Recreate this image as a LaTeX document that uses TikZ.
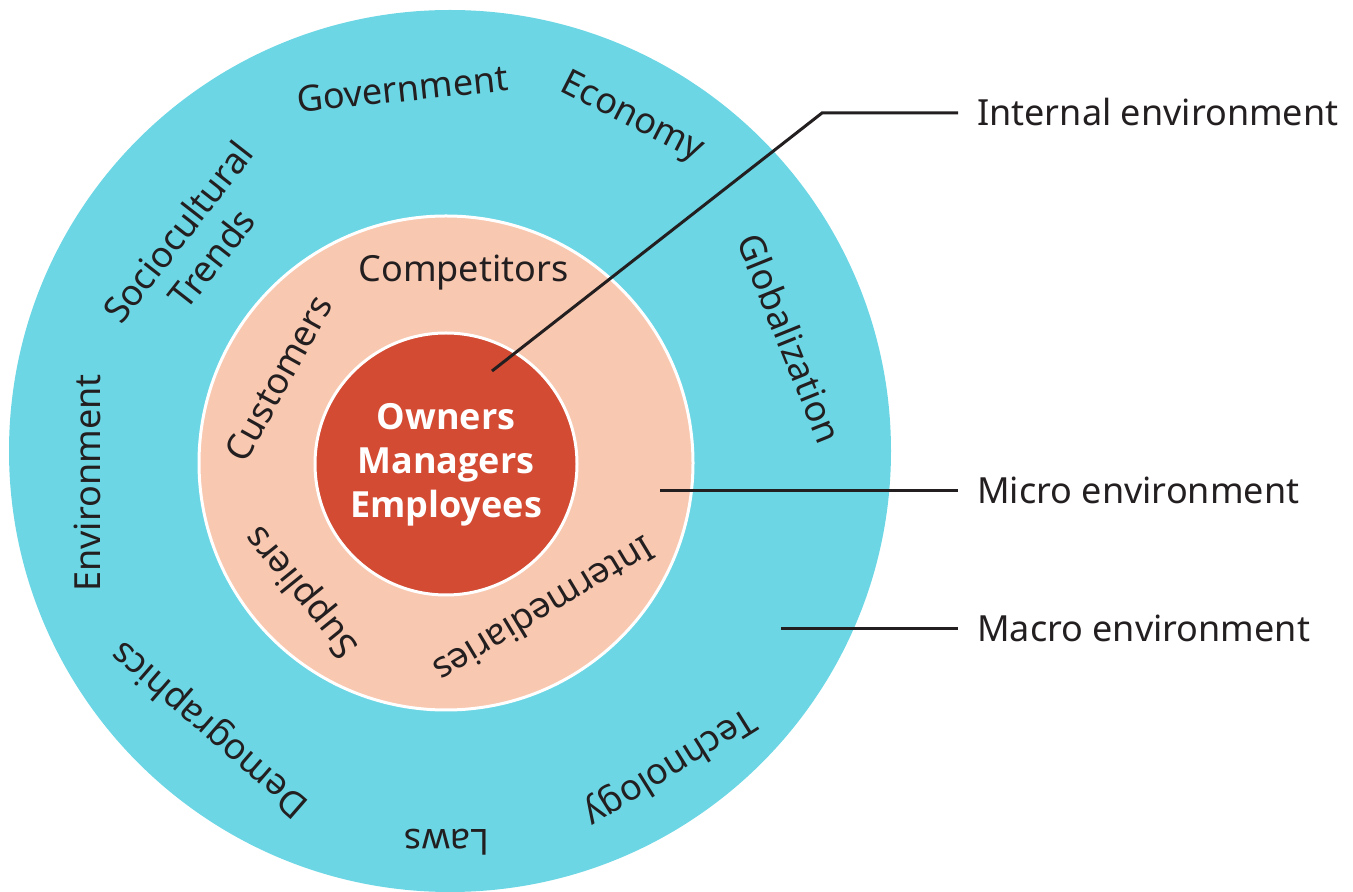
\documentclass[tikz,border=0pt]{standalone}
\usepackage{fontspec}
\setmainfont{Noto Sans}
\newfontfamily\heavyfont{Open Sans}[BoldFont={* Bold}]
\definecolor{macrocol}{HTML}{6CD6E4}
\definecolor{microcol}{HTML}{F9C8B0}
\definecolor{internalcol}{HTML}{D34B33}
\definecolor{ink}{HTML}{231F20}

\begin{document}
\begin{tikzpicture}[x=1pt, y=1pt]
\tikzstyle{ring} = [circle, draw=white, line width=3pt, inner sep=0pt]
\tikzstyle{lab} = [font=\fontsize{36}{43}\selectfont, text=ink, inner sep=0pt, text height=27pt, text depth=9pt]
\tikzstyle{side} = [lab, anchor=west, inner xsep=19pt, text height=31pt, text depth=5pt]
\tikzstyle{lead} = [draw=ink, line width=3pt]
\useasboundingbox (0, 0) rectangle (1353, 892);

\node [ring, draw=none, fill=macrocol, minimum size=882pt] (macro) at (450, 441) {};
\node [ring, fill=microcol, minimum size=494pt] (micro) at (446, 429) {};
\node [ring, fill=internalcol, minimum size=262pt] (internal) at (446, 428) {};

\node [lab, rotate=6] (gov) at (403, 799.5) {Government};
\node [lab, rotate=-27] (eco) at (632, 774) {Economy};
\node [lab, rotate=52, align=center, text height=, text depth=] (soc) at (194.5, 647) {Sociocultural\\Trends};
\node [lab, rotate=90] (env) at (92, 409) {Environment};
\node [lab, rotate=139] (dem) at (211, 164) {Demographics};
\node [lab, rotate=180] (law) at (447, 53) {Laws};
\node [lab, rotate=212] (tec) at (669, 126) {Technology};
\node [lab, rotate=-68] (glo) at (786, 552) {Globalization};

\node [lab] (com) at (463.5, 619) {Competitors};
\node [lab, rotate=61] (cus) at (282, 512) {Customers};
\node [lab, rotate=129] (sup) at (303, 301) {Suppliers};
\node [lab, rotate=211] (int) at (542, 285) {Intermediaries};

\node [lab, text=white, align=center, text height=, text depth=, font=\heavyfont\bfseries\fontsize{36}{44}\selectfont] (own) at (446, 427) {Owners\\Managers\\Employees};

\coordinate (p1) at (492, 521);
\coordinate (k1) at (822, 779);
\coordinate (p2) at (660, 401);
\coordinate (p3) at (781, 263);

\node [side] (inl) at (958, 779) {Internal environment};
\node [side] (mil) at (958, 401) {Micro environment};
\node [side] (mal) at (958, 263) {Macro environment};

\draw [lead] (p1) -- (k1) -- (inl);
\draw [lead] (p2) -- (mil);
\draw [lead] (p3) -- (mal);

\end{tikzpicture}
\end{document}
